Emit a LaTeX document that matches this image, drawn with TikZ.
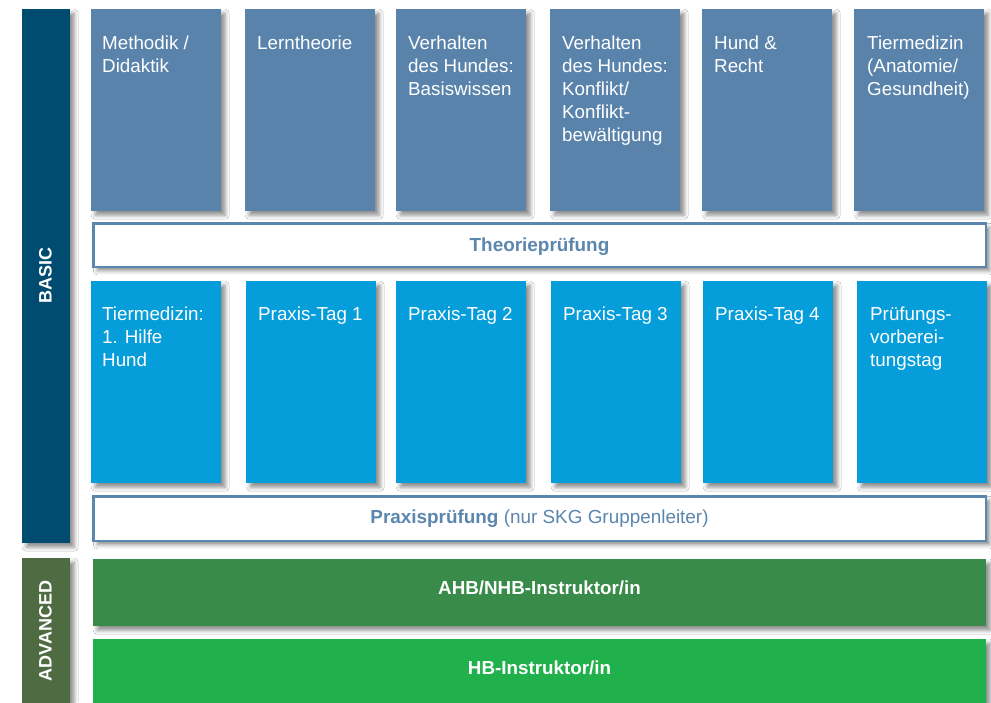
\documentclass[tikz,border=0pt]{standalone}
\usepackage{fontspec}
\setmainfont{Liberation Sans}
\usetikzlibrary{shadows.blur}
\definecolor{topblue}{HTML}{5983AB}
\definecolor{midblue}{HTML}{059DDA}
\definecolor{basicblue}{HTML}{004B70}
\definecolor{advgreen}{HTML}{4E6B42}
\definecolor{ahbgreen}{HTML}{388B49}
\definecolor{hbgreen}{HTML}{20B04C}
\definecolor{barblue}{HTML}{5B86AE}
\begin{document}
\begin{tikzpicture}[x=1pt,y=-1pt,
  sh/.style={blur shadow={shadow xshift=4pt, shadow yshift=-4pt, shadow blur radius=4pt, shadow opacity=45}},
  card/.style={rectangle, anchor=north west, inner sep=0pt, minimum width=130pt, minimum height=202pt, sh},
  topcard/.style={card, fill=topblue},
  midcard/.style={card, fill=midblue},
  cardtext/.style={anchor=north west, inner sep=0pt, align=left, text=white, font=\fontsize{18.8}{23}\selectfont},
  exambar/.style={rectangle, inner sep=0pt, fill=white, draw=barblue, line width=2.5pt, minimum width=892.5pt, sh},
  bartext/.style={inner sep=0pt, text=barblue, font=\fontsize{18.9}{23}\selectfont},
  levelbar/.style={rectangle, anchor=north west, inner sep=0pt, minimum width=893pt, sh},
  leveltext/.style={inner sep=0pt, text=white, font=\fontsize{18.8}{23}\selectfont\bfseries},
  sidebar/.style={rectangle, anchor=north west, inner sep=0pt, minimum width=48pt, sh},
  sidetext/.style={rotate=90, inner sep=0pt, text=white, font=\fontsize{18}{22}\selectfont\bfseries}
]
\useasboundingbox (0,0) rectangle (991,702);
\fill[white] (0,0) rectangle (991,702);

% side bars
\node[sidebar, fill=basicblue, minimum height=534pt] (basic) at (22,9) {};
\node[sidetext] (basicl) at (45.5,275.5) {BASIC};
\node[sidebar, fill=advgreen, minimum height=152pt] (adv) at (22,558) {};
\node[sidetext] (advl) at (45.5,631) {ADVANCED};

% top row
\node[topcard] (t1) at (91,9) {};
\node[topcard] (t2) at (245,9) {};
\node[topcard] (t3) at (396,9) {};
\node[topcard] (t4) at (550,9) {};
\node[topcard] (t5) at (702,9) {};
\node[topcard] (t6) at (854,9) {};
\node[cardtext] (t1l) at ([xshift=11pt,yshift=-27pt]t1.north west) {Methodik /\\Didaktik};
\node[cardtext] (t2l) at ([xshift=12pt,yshift=-27pt]t2.north west) {Lerntheorie};
\node[cardtext] (t3l) at ([xshift=12pt,yshift=-27pt]t3.north west) {Verhalten\\des Hundes:\\Basiswissen};
\node[cardtext] (t4l) at ([xshift=12pt,yshift=-27pt]t4.north west) {Verhalten\\des Hundes:\\Konflikt/\\Konflikt-\\bewältigung};
\node[cardtext] (t5l) at ([xshift=12pt,yshift=-27pt]t5.north west) {Hund \&\\Recht};
\node[cardtext] (t6l) at ([xshift=13pt,yshift=-27pt]t6.north west) {Tiermedizin\\(Anatomie/\\Gesundheit)};

% Theorie bar
\node[exambar, minimum height=43.5pt] (theo) at (539.5,245) {};
\node[bartext, font=\fontsize{18.9}{23}\selectfont\bfseries] (theol) at ([yshift=-1.5pt]theo.center) {Theorieprüfung};

% second row
\node[midcard] (m1) at (91,281) {};
\node[midcard] (m2) at (246,281) {};
\node[midcard] (m3) at (396,281) {};
\node[midcard] (m4) at (551,281) {};
\node[midcard] (m5) at (703,281) {};
\node[midcard] (m6) at (857,281) {};
\node[cardtext] (m1l) at ([xshift=11pt,yshift=-26pt]m1.north west) {Tiermedizin:\\1. Hilfe\\Hund};
\node[cardtext] (m2l) at ([xshift=12pt,yshift=-26pt]m2.north west) {Praxis-Tag 1};
\node[cardtext] (m3l) at ([xshift=12pt,yshift=-26pt]m3.north west) {Praxis-Tag 2};
\node[cardtext] (m4l) at ([xshift=12pt,yshift=-26pt]m4.north west) {Praxis-Tag 3};
\node[cardtext] (m5l) at ([xshift=12pt,yshift=-26pt]m5.north west) {Praxis-Tag 4};
\node[cardtext] (m6l) at ([xshift=13pt,yshift=-26pt]m6.north west) {Prüfungs-\\vorberei-\\tungstag};

% Praxis bar
\node[exambar, minimum height=44.5pt] (prax) at (539.5,518.5) {};
\node[bartext] (praxl) at ([yshift=-0.5pt]prax.center) {\textbf{Praxisprüfung} (nur SKG Gruppenleiter)};

% advanced bars
\node[levelbar, fill=ahbgreen, minimum height=67pt] (ahb) at (93,559) {};
\node[leveltext] (ahbl) at (539.5,588) {AHB/NHB-Instruktor/in};
\node[levelbar, fill=hbgreen, minimum height=71pt] (hb) at (93,639) {};
\node[leveltext] (hbl) at (539.5,668) {HB-Instruktor/in};
\end{tikzpicture}
\end{document}
